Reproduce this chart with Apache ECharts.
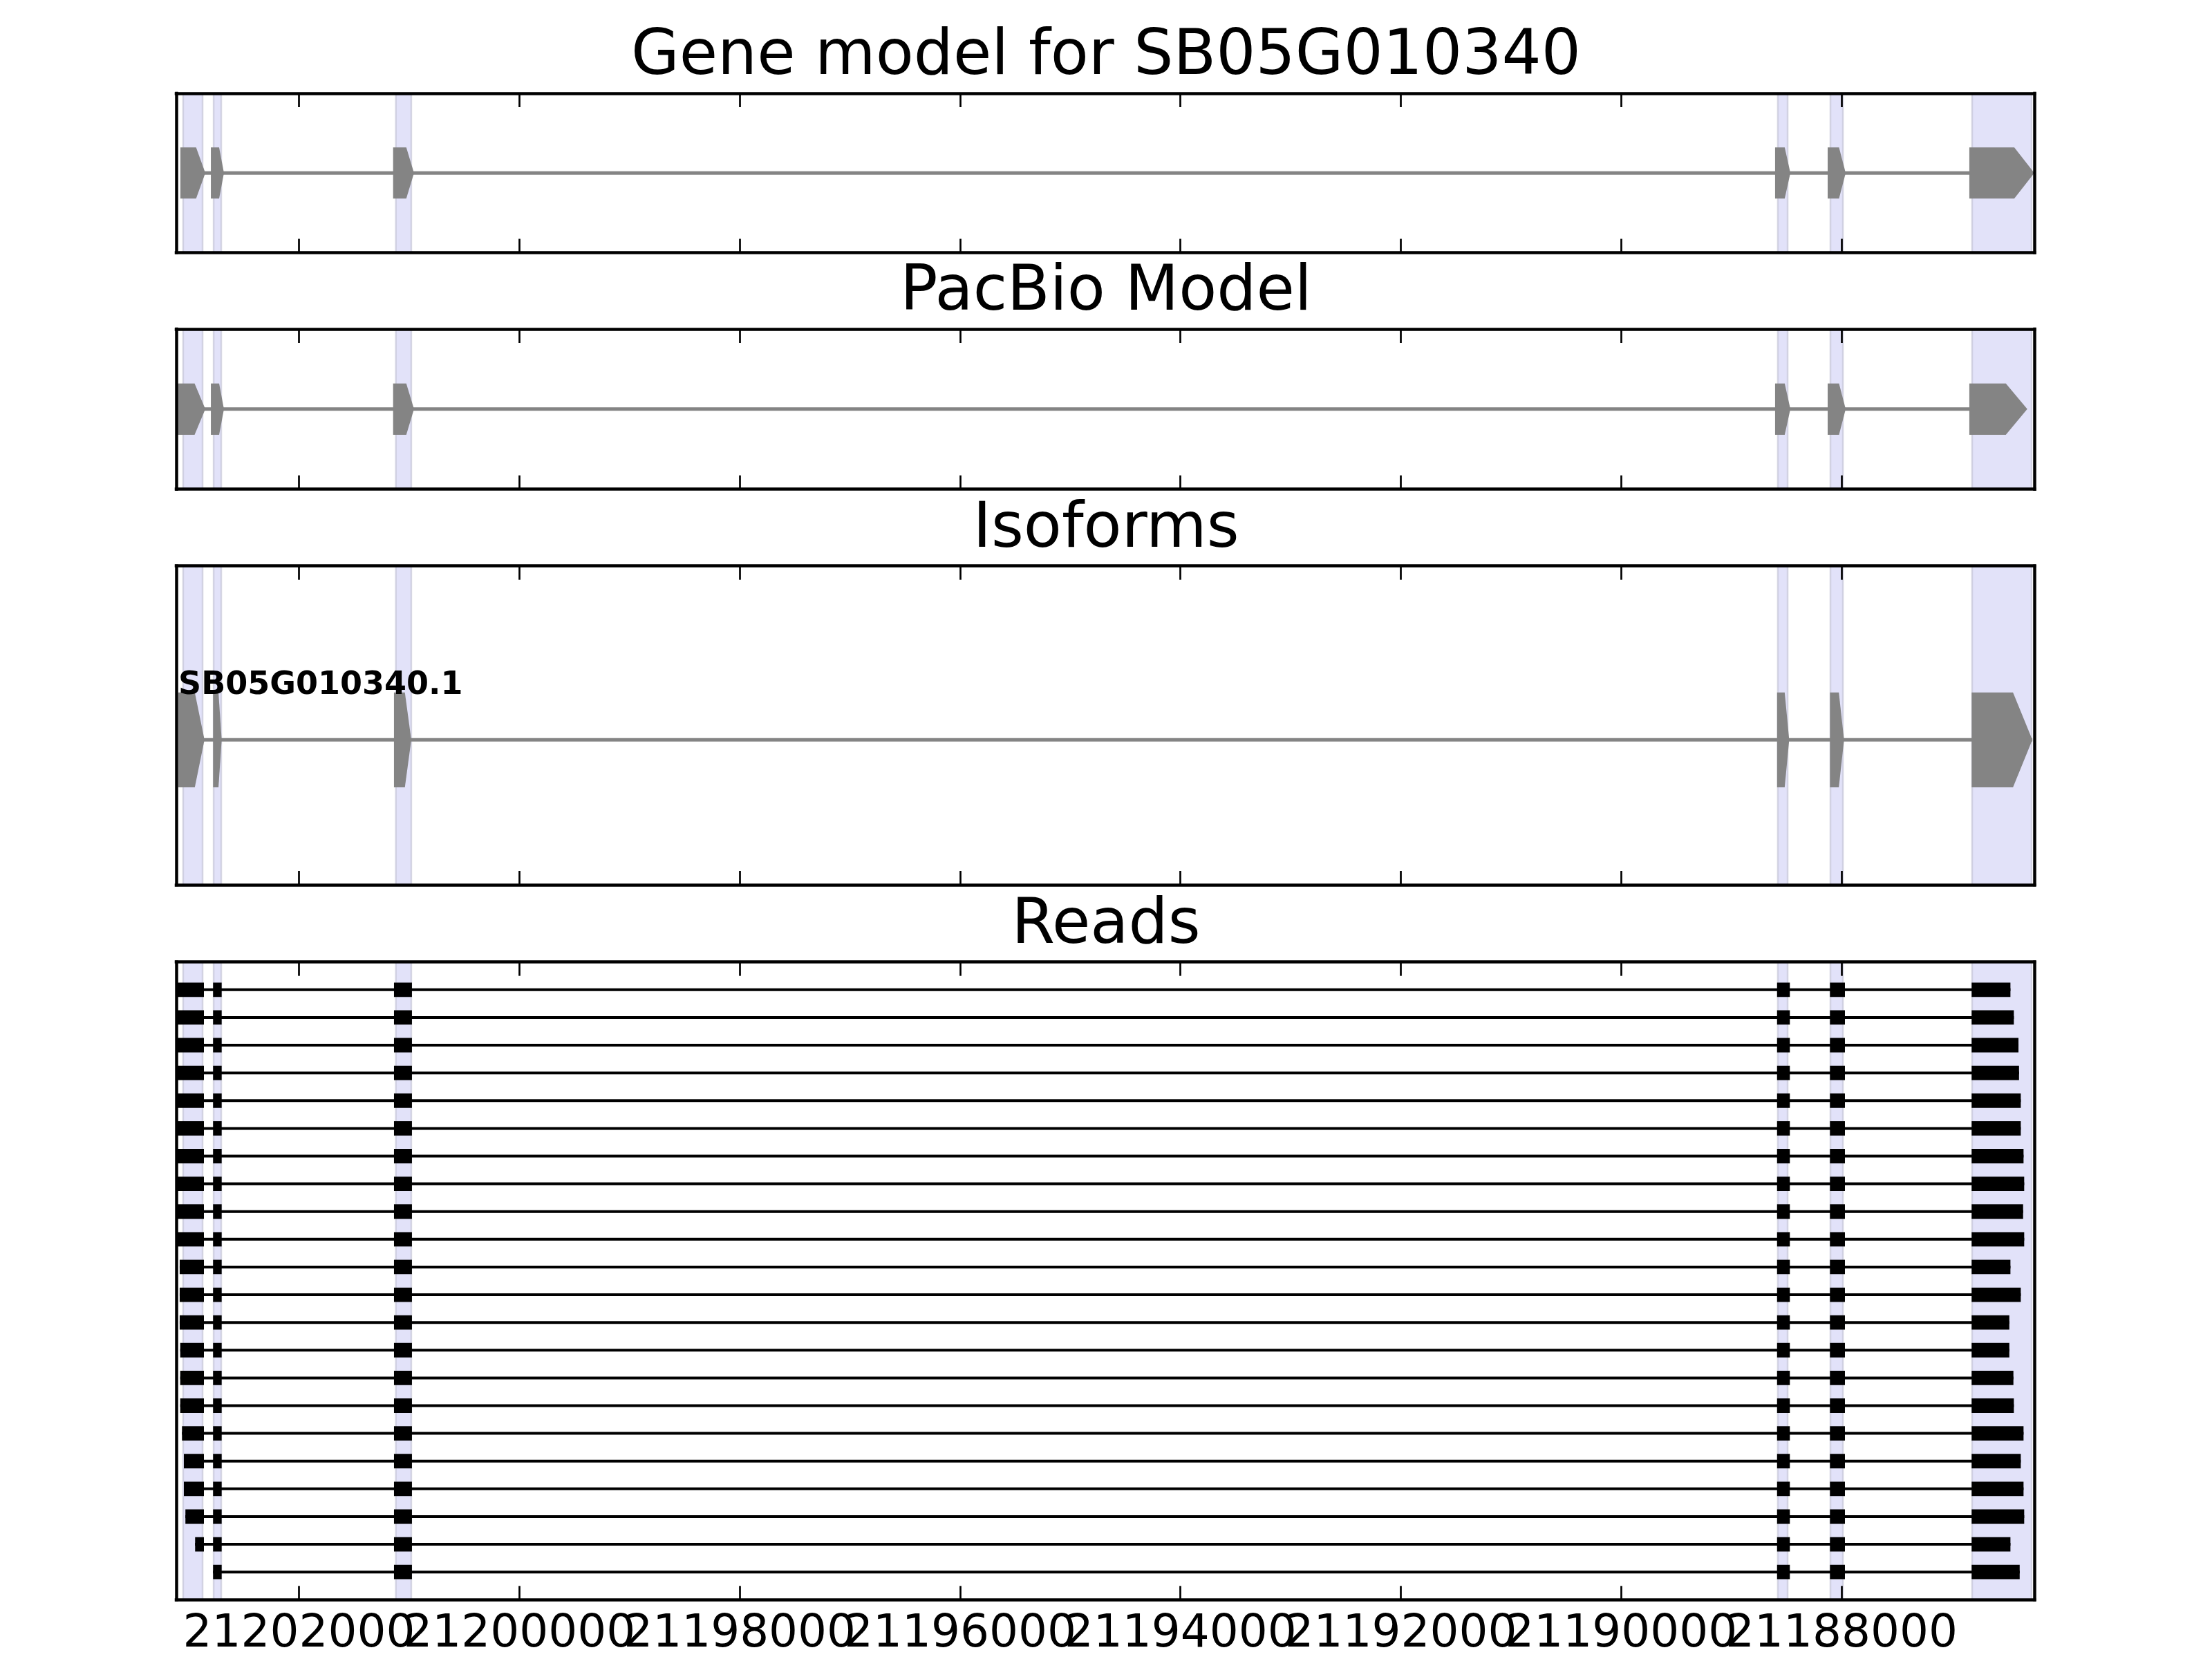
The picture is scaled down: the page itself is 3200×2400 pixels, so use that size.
<!DOCTYPE html>
<html><head><meta charset="utf-8">
<script src="https://cdn.jsdelivr.net/npm/echarts@6/dist/echarts.min.js"></script>
<style>html,body{margin:0;padding:0;background:#fff}#c{width:3200px;height:2400px}</style>
</head><body><div id="c"></div>
<script>
// ---------- data ----------
const panelTitles = ['Gene model for SB05G010340', 'PacBio Model', 'Isoforms', 'Reads'];
const xMinBp = 21186248;
const xMaxBp = 21203114;
const tickValues = [21188000, 21190000, 21192000, 21194000, 21196000, 21198000, 21200000, 21202000];

// exons listed in transcription order [start, end] (minus strand: start > end)
const geneExons = [[21203058, 21202869], [21202781, 21202700], [21201127, 21200975],
                   [21188584, 21188483], [21188107, 21187981], [21186821, 21186269]];
const pacbioExons = [[21203095, 21202869], [21202781, 21202700], [21201127, 21200975],
                     [21188584, 21188483], [21188107, 21187981], [21186821, 21186333]];
const isoformName = 'SB05G010340.1';
const isoformExons = [[21203095, 21202858], [21202780, 21202702], [21201138, 21200981],
                      [21188585, 21188475], [21188105, 21187977], [21186819, 21186268]];

// reads: first base (5' on minus strand), last base, shared splice blocks
const readStarts = [21203130, 21203130, 21203130, 21203130, 21203130, 21203130, 21203130, 21203130,
                    21203130, 21203130, 21203083, 21203083, 21203083, 21203078, 21203078, 21203078,
                    21203062, 21203045, 21203045, 21203031, 21202943, 21202780];
const readEnds = [21186467, 21186436, 21186394, 21186389, 21186373, 21186373, 21186348, 21186342,
                  21186352, 21186342, 21186467, 21186373, 21186477, 21186477, 21186440, 21186436,
                  21186348, 21186373, 21186348, 21186342, 21186467, 21186383];
const readBlocks = [[null, 21202863], [21202780, 21202702], [21201138, 21200975],
                    [21188585, 21188469], [21188105, 21187969], [21186819, null]];

// ---------- layout / style ----------
const FONT = 'DejaVu Sans';
const GRAY = '#848484';
const grids = [
  {left: 255, width: 2688.3, top: 135, height: 230.5},
  {left: 255, width: 2688.3, top: 476, height: 231.7},
  {left: 255, width: 2688.3, top: 818.7, height: 461.3},
  {left: 255, width: 2688.3, top: 1391.7, height: 922.6}
];
const yRanges = [[0, 1, false], [0, 1, false], [0, 2.2, false], [0, readStarts.length + 1, true]];
const titleTops = [39, 380, 723, 1296];

function xAxisFor(i, pos) {
  return {
    gridIndex: i, type: 'value', inverse: true, min: xMinBp, max: xMaxBp, position: pos, z: 10,
    axisLine: {show: true, onZero: false, lineStyle: {color: '#000', width: 4.5, cap: 'square'}},
    axisTick: {show: true, inside: true, length: 20, customValues: tickValues,
               lineStyle: {color: '#000', width: 2.7}},
    axisLabel: {show: false},
    splitLine: {show: false}
  };
}
function yAxisFor(i, pos) {
  return {
    gridIndex: i, type: 'value', min: yRanges[i][0], max: yRanges[i][1], inverse: yRanges[i][2],
    position: pos, z: 10,
    axisLine: {show: true, onZero: false, lineStyle: {color: '#000', width: 4.5, cap: 'square'}},
    axisTick: {show: false}, axisLabel: {show: false}, splitLine: {show: false}
  };
}

function bandRender(params, api) {
  const a = api.coord([api.value(0), 0])[0];
  const b = api.coord([api.value(1), 0])[0];
  const cs = params.coordSys;
  const l = Math.min(a, b), r = Math.max(a, b);
  return {type: 'rect', shape: {x: l + 1, y: cs.y, width: r - l - 2, height: cs.height},
          style: {fill: '#e2e2f9', stroke: 'rgba(200,200,218,0.75)', lineWidth: 2.5}};
}

function transcriptRender(exons, opt) {
  return function (params, api) {
    const y = api.value(0);
    const cy = api.coord([xMinBp, y])[1];
    const hh = Math.abs(api.coord([xMinBp, y + opt.half])[1] - cy);
    const px = exons.map(e => [api.coord([e[0], y])[0], api.coord([e[1], y])[0]]);
    const all = px.flat();
    const children = [{type: 'line', shape: {x1: Math.min(...all), y1: cy, x2: Math.max(...all), y2: cy},
                       style: {stroke: GRAY, lineWidth: opt.lineW}}];
    px.forEach(([a, b]) => {
      const dir = b >= a ? 1 : -1;
      const s = a - dir * opt.pad, e = b + dir * opt.pad;
      const w = Math.abs(e - s);
      const t = Math.min(opt.taperFrac * w, opt.taperMax) * dir;
      children.push({type: 'polygon',
        shape: {points: [[s, cy - hh], [e - t, cy - hh], [e, cy], [e - t, cy + hh], [s, cy + hh]]},
        style: {fill: GRAY}});
    });
    if (opt.label) {
      children.push({type: 'text', style: {text: opt.label, x: px[0][0], y: cy - hh + 13,
        fill: '#000', font: 'bold 46px "' + FONT + '"', align: 'left', verticalAlign: 'bottom'}});
    }
    return {type: 'group', children};
  };
}

function readRender(params, api) {
  const i = api.value(1);
  const y = api.value(0);
  const cy = api.coord([xMinBp, y])[1];
  const hh = Math.abs(api.coord([xMinBp, y + 0.26])[1] - cy);
  const blocks = readBlocks
    .map(([a, b]) => [a === null ? readStarts[i] : a, b === null ? readEnds[i] : b])
    .filter(([a, b]) => a <= readStarts[i] && a > b);
  const px = blocks.map(([a, b]) => [api.coord([a, y])[0], api.coord([b, y])[0]]);
  const all = px.flat();
  const children = [{type: 'line', shape: {x1: Math.min(...all), y1: cy, x2: Math.max(...all), y2: cy},
                     style: {stroke: '#000', lineWidth: 4}}];
  px.forEach(([a, b]) => {
    const l = Math.min(a, b), r = Math.max(a, b);
    children.push({type: 'rect', shape: {x: l, y: cy - hh, width: r - l, height: 2 * hh}, style: {fill: '#000'}});
  });
  return {type: 'group', children};
}

// tick labels drawn through the reads x-axis scale (all shown, overlapping as in the original)
function tickLabelRender(params, api) {
  const v = api.value(0);
  const x = api.coord([v, 0])[0];
  const cs = params.coordSys;
  return {type: 'text', style: {text: String(v), x: x, y: cs.y + cs.height + 18,
    fill: '#000', font: '66px "' + FONT + '"', align: 'center', verticalAlign: 'top'}};
}

const series = [];
for (let i = 0; i < 4; i++) {
  series.push({type: 'custom', xAxisIndex: 2 * i, yAxisIndex: 2 * i, clip: true, z: 1, silent: true,
               renderItem: bandRender, data: geneExons.map(e => [e[0], e[1]])});
}
series.push({type: 'custom', xAxisIndex: 0, yAxisIndex: 0, clip: true, z: 3, silent: true,
  renderItem: transcriptRender(geneExons, {half: 0.16, pad: 3, lineW: 5, taperFrac: 0.37, taperMax: 29}),
  data: [[0.5]]});
series.push({type: 'custom', xAxisIndex: 2, yAxisIndex: 2, clip: true, z: 3, silent: true,
  renderItem: transcriptRender(pacbioExons, {half: 0.16, pad: 3, lineW: 5, taperFrac: 0.37, taperMax: 31}),
  data: [[0.5]]});
series.push({type: 'custom', xAxisIndex: 4, yAxisIndex: 4, clip: true, z: 3, silent: true,
  renderItem: transcriptRender(isoformExons, {half: 0.327, pad: 0, lineW: 5, taperFrac: 0.37, taperMax: 28, label: isoformName}),
  data: [[1]]});
series.push({type: 'custom', xAxisIndex: 6, yAxisIndex: 6, clip: true, z: 3, silent: true,
  renderItem: readRender, data: readStarts.map((s, i) => [i + 1, i])});
series.push({type: 'custom', xAxisIndex: 6, yAxisIndex: 6, clip: false, z: 5, silent: true,
  renderItem: tickLabelRender, data: tickValues.map(v => [v, 0])});

const xAxes = [], yAxes = [];
for (let i = 0; i < 4; i++) {
  xAxes.push(xAxisFor(i, 'bottom'), xAxisFor(i, 'top'));
  yAxes.push(yAxisFor(i, 'left'), yAxisFor(i, 'right'));
}

const chart = echarts.init(document.getElementById('c'), null, {renderer: 'canvas'});
chart.setOption({
  backgroundColor: '#fff',
  animation: false,
  title: panelTitles.map((t, i) => ({text: t, left: 'center', top: titleTops[i], padding: 0,
    textStyle: {fontSize: 90, fontWeight: 'normal', fontFamily: FONT, color: '#000'}})),
  grid: grids.map(g => Object.assign({outerBoundsMode: 'none', containLabel: false}, g)),
  xAxis: xAxes,
  yAxis: yAxes,
  series: series
});
</script></body></html>
